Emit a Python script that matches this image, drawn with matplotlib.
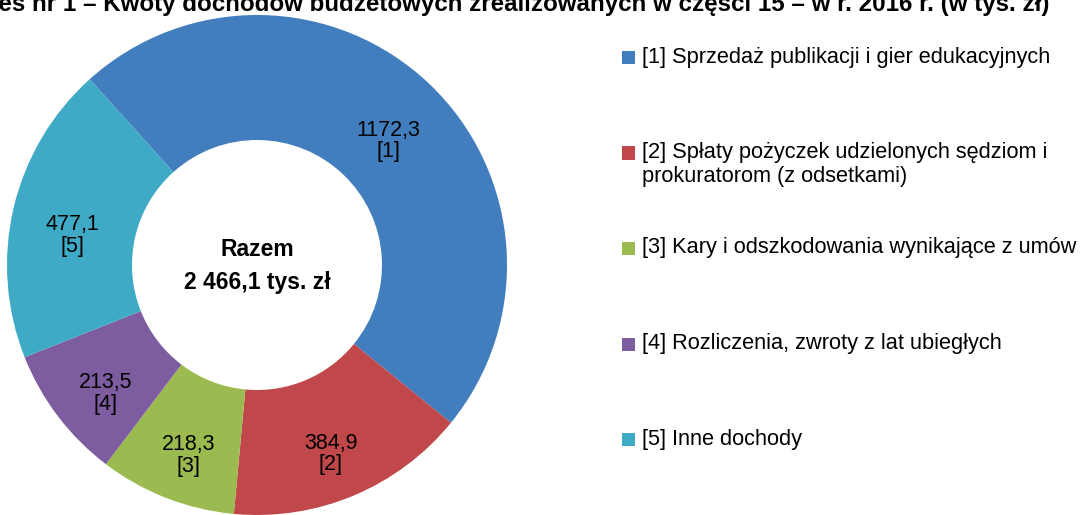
import matplotlib
matplotlib.use('Agg')
import matplotlib.pyplot as plt
import matplotlib.patches as mpatches
import numpy as np

# data
labels = [
  '[1] Sprzedaż publikacji i gier edukacyjnych',
  '[2] Spłaty pożyczek udzielonych sędziom i\nprokuratorom (z odsetkami)',
  '[3] Kary i odszkodowania wynikające z umów',
  '[4] Rozliczenia, zwroty z lat ubiegłych',
  '[5] Inne dochody',
]
codes = ['[1]', '[2]', '[3]', '[4]', '[5]']
values = [1172.3, 384.9, 218.3, 213.5, 477.1]
colors = ['#427DBD', '#C0474A', '#9BBB50', '#7D5CA0', '#3FAAC6']
title = 'Wykres nr 1 – Kwoty dochodów budżetowych zrealizowanych w części 15 – w r. 2016 r. (w tys. zł)'

FONT = ['Liberation Sans', 'DejaVu Sans']


def fmt_pl(v, sep=''):
  s = f'{v:,.1f}'
  return s.replace(',', sep).replace('.', ',')


W, H = 1081, 515
fig = plt.figure(figsize=(W / 100, H / 100), dpi=100)

# donut
cx, cy, r = 257, 265, 250
ax = fig.add_axes([(cx - r) / W, (H - cy - r) / H, 2 * r / W, 2 * r / H])
wedges, _ = ax.pie(
  values, colors=colors, startangle=132, counterclock=False,
  radius=1.0, wedgeprops=dict(width=0.5, linewidth=0),
)
ax.set_aspect('equal')
ax.set_xlim(-1, 1)
ax.set_ylim(-1, 1)

for w, v, c in zip(wedges, values, codes):
  ang = np.deg2rad((w.theta1 + w.theta2) / 2)
  ax.text(0.76 * np.cos(ang), 0.76 * np.sin(ang) - 0.055, f'{fmt_pl(v)}\n{c}',
          ha='center', va='center', fontsize=15.5, family=FONT,
          linespacing=1.05)

ax.text(0, 0.06, 'Razem', ha='center', va='center', fontsize=16.5,
        fontweight='bold', family=FONT)
ax.text(0, -0.07, f'{fmt_pl(sum(values), " ")} tys. zł', ha='center', va='center',
        fontsize=16.5, fontweight='bold', family=FONT)

# legend, drawn by hand to mimic the Excel layout
leg_x, leg_y0, leg_step, sq = 622, 57.5, 95.5, 13
for i, (lab, col) in enumerate(zip(labels, colors)):
  y = leg_y0 + i * leg_step
  fig.patches.append(mpatches.Rectangle(
    (leg_x / W, (H - y - sq / 2) / H), sq / W, sq / H,
    transform=fig.transFigure, facecolor=col, edgecolor='none'))
  fig.text((leg_x + 20) / W, (H - y + 11) / H, lab, ha='left', va='top',
           fontsize=15.7, family=FONT, linespacing=1.2,
           transform=fig.transFigure)

# title, clipped at the top like in the source image
fig.text(1050 / W, (H - 11) / H, title, ha='right', va='baseline',
         fontsize=17.4, fontweight='bold', family=FONT)

fig.savefig('out.png', dpi=100)
